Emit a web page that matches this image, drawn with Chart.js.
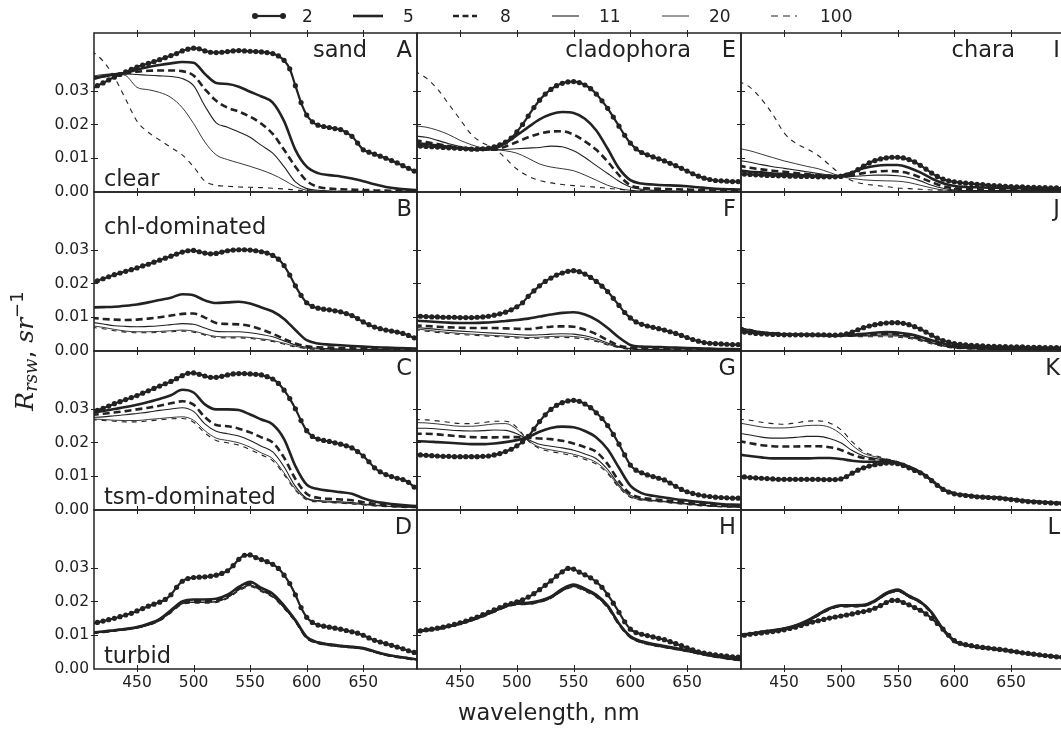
<!DOCTYPE html>
<html>
<head>
<meta charset="utf-8">
<script src="https://cdn.jsdelivr.net/npm/chart.js@4/dist/chart.umd.min.js"></script>
<style>
  html, body { margin: 0; padding: 0; overflow: hidden; background: #fff; }
  body { position: relative; width: 1061px; height: 731px; }
  canvas { position: absolute; }
  #labels { position: absolute; left: 0; top: 0; pointer-events: none; }
</style>
</head>
<body>
<svg id="labels" width="1061" height="731">
  <g stroke="#222" fill="#222">
    <line x1="253" y1="16" x2="285" y2="16" stroke-width="2.2"/>
    <circle cx="255" cy="16" r="3" stroke="none"/>
    <circle cx="283" cy="16" r="3" stroke="none"/>
    <line x1="353" y1="16" x2="383" y2="16" stroke-width="2.6"/>
    <line x1="453" y1="16" x2="477" y2="16" stroke-width="2.6" stroke-dasharray="6 3.5"/>
    <line x1="552" y1="16" x2="579" y2="16" stroke-width="1.1"/>
    <line x1="662" y1="16" x2="689" y2="16" stroke-width="0.9"/>
    <line x1="771" y1="16" x2="797" y2="16" stroke-width="1.1" stroke-dasharray="7 5"/>
  </g>
  <g font-family="DejaVu Sans" font-size="17" fill="#222">
    <text x="302" y="22">2</text>
    <text x="403" y="22">5</text>
    <text x="500" y="22">8</text>
    <text x="599" y="22">11</text>
    <text x="709" y="22">20</text>
    <text x="820" y="22">100</text>
  </g>
  <text x="458" y="720" font-family="DejaVu Sans" font-size="22.5" fill="#222">wavelength, nm</text>
  <text transform="translate(33,351) rotate(-90)" text-anchor="middle" font-size="25" fill="#222" font-family="DejaVu Sans"><tspan font-family="DejaVu Serif" font-style="italic">R</tspan><tspan font-family="DejaVu Serif" font-style="italic" font-size="18" dy="4">rsw</tspan><tspan dy="-4">, </tspan><tspan font-family="DejaVu Serif" font-style="italic">sr</tspan><tspan font-size="18" dy="-10">−1</tspan></text>
</svg>
<script>
// reflectance values in units of 1e-3 sr^-1
const wl = [410,420,430,440,450,460,470,480,490,500,510,520,530,540,550,560,570,580,590,600,610,620,630,640,650,660,670,680,690,700];
const wlFine = [410,415,420,425,430,435,440,445,450,455,460,465,470,475,480,485,490,495,500,505,510,515,520,525,530,535,540,545,550,555,560,565,570,575,580,585,590,595,600,605,610,615,620,625,630,635,640,645,650,655,660,665,670,675,680,685,690,695,700];
const depths = ['2', '5', '8', '11', '20', '100'];

// sand
const A2 = [30.5,31.5,32.3,33.2,34,34.8,35.6,36.3,37,37.6,38.1,38.6,39.2,39.8,40.4,41,41.8,42.3,42.6,42.4,41.8,41.4,41.3,41.4,41.6,41.8,41.9,41.8,41.7,41.6,41.5,41.3,41,40.3,39,36.5,31.5,26.5,22.8,20.8,19.8,19.4,19.1,18.8,18.5,17.6,16.5,14.5,12.5,11.8,11.2,10.6,10,9.3,8.6,7.8,7,6.2,5.6];
const A5 = [33.5,34.2,34.8,35.3,36.2,37,37.6,38.1,38.5,38.3,35,32.3,32,31.2,29.7,28.3,26.5,21,12.5,7.5,5.6,5,4.6,4,3.2,2.3,1.5,1,0.7,0.5];
const A8 = [33.5,34.2,34.8,35.2,35.6,35.9,36,36,35.8,34.5,30.5,27,25,23.8,22.3,20.2,17.2,12.5,7.5,3.3,1.5,1,0.8,0.7,0.6,0.5,0.4,0.3,0.3,0.3];
const A11 = [34,34.5,35,35,34.8,34.6,34.4,34.2,33.6,31.5,25.5,20.5,19.2,17.8,16.2,13.8,11.5,7.5,3,1,0.5,0.3,0.2,0.2,0.1,0.1,0.1,0.1,0.1,0.1];
const A20 = [34.3,34.8,35,34.5,31,30.3,29.5,28,25,20.3,14.8,11,9.6,8.6,7.6,6.5,5.2,3.5,1.6,0.5,0.2,0.1,0.1,0.1,0.1,0.1,0.1,0.1,0.1,0.1];
const A100 = [41.8,38.8,34,27.5,21,17.7,15.4,13.2,11,7.5,3.2,2,1.7,1.5,1.4,1.3,1.1,0.9,0.6,0.3,0.2,0.2,0.2,0.2,0.2,0.2,0.2,0.2,0.2,0.2];

const B2 = [20.2,20.8,21.4,22,22.6,23.1,23.6,24.1,24.6,25.2,25.7,26.3,26.9,27.5,28.1,28.7,29.3,29.7,29.8,29.4,29,28.8,28.9,29.3,29.7,29.9,30,30,29.9,29.7,29.4,29,28.3,27.2,25.3,22.5,19.3,16.5,14.3,13.2,12.7,12.4,12.2,11.9,11.6,11.1,10.5,9.6,8.6,7.8,7.1,6.6,6.2,5.9,5.6,5.2,4.6,3.9,3.5];
const B5 = [12.9,13,13.1,13.4,13.8,14.4,15.1,15.8,16.8,16.5,15,14.2,14.4,14.6,14.1,12.9,11.7,9.5,6.2,3.2,2.2,1.9,1.7,1.5,1.3,1.1,1,0.9,0.8,0.7];
const B8 = [9.8,9.5,9.3,9.2,9.3,9.6,10,10.5,11,11.1,9.9,8.3,8,7.9,7.4,6.4,5.1,3.6,2.2,1.4,1.1,1,0.9,0.8,0.7,0.6,0.5,0.5,0.4,0.4];
const B11 = [8.5,8,7.5,7.3,7.2,7.3,7.5,7.8,8.1,7.9,6.8,5.8,5.7,5.7,5.4,4.9,4.2,3,1.8,1.1,0.8,0.7,0.6,0.5,0.5,0.4,0.4,0.3,0.3,0.3];
const B20 = [7.5,7,6.4,5.9,5.7,5.7,5.8,6,6.2,5.9,5,4.3,4.2,4.2,4,3.6,3.1,2.3,1.4,0.8,0.6,0.5,0.4,0.4,0.3,0.3,0.3,0.2,0.2,0.2];
const B100 = [7,6.6,6,5.6,5.4,5.4,5.5,5.7,5.9,5.6,4.7,4,3.9,3.9,3.7,3.3,2.8,2,1.2,0.7,0.5,0.4,0.4,0.3,0.3,0.3,0.2,0.2,0.2,0.2];

const C2 = [28.8,29.5,30.1,30.8,31.5,32.1,32.7,33.3,33.9,34.6,35.3,36,36.7,37.4,38.1,38.9,39.8,40.5,40.6,40.2,39.7,39.3,39.3,39.6,40,40.3,40.4,40.4,40.3,40.2,40,39.5,38.8,37.5,35.5,33,30,26.5,23.5,21.8,21,20.6,20.3,19.9,19.5,19,18.4,17.3,16,14.3,12.5,11.3,10.5,9.9,9.4,9,8.2,6.8,6];
const C5 = [28.8,29.3,29.9,30.5,31.2,32,32.9,34,35.6,34.8,31.3,29.8,29.8,29.6,28.3,26.8,25.3,21,13,7.5,6.2,5.7,5.3,4.8,3.5,2.5,2,1.6,1.3,1.1];
const C8 = [28.2,28.5,28.9,29.3,29.8,30.3,30.9,31.6,32.2,31.2,27.5,25.2,24.8,24.1,23,21.5,20,15.5,9.2,4.8,3.6,3.3,3.1,2.9,2.3,1.8,1.5,1.3,1.1,1];
const C11 = [27.4,27.6,27.9,28.2,28.6,29,29.5,29.9,30.3,29.2,25.5,23.3,22.6,21.9,20.6,18.9,17.2,12.8,7,3.5,2.8,2.6,2.4,2.2,1.8,1.5,1.2,1,0.9,0.8];
const C20 = [27,26.8,26.6,26.5,26.5,26.8,27.1,27.4,27.6,26.6,23.5,21.3,20.6,19.9,18.6,16.9,15.2,11,6.2,3.3,2.6,2.3,2.1,1.9,1.6,1.3,1.1,0.9,0.8,0.7];
const C100 = [26.8,26.5,26.3,26.1,26.1,26.4,26.7,27,27.1,26,22.8,20.6,19.9,19.2,17.9,16.3,14.6,10.5,5.8,3,2.4,2.2,2,1.8,1.5,1.2,1,0.8,0.7,0.7];

const D2 = [13.4,13.8,14.2,14.6,15,15.5,16,16.5,17.2,17.9,18.6,19.2,19.8,20.6,22,24.2,26,26.8,27.1,27.2,27.3,27.5,27.8,28.3,29.1,30.6,32.5,33.7,33.8,33,32.4,31.8,31,29.8,27.8,25.3,22,18.2,15.3,13.8,13,12.7,12.4,12.1,11.8,11.4,11,10.6,10,9.2,8.5,8,7.5,7,6.5,6,5.4,4.9,4.6];
const D5 = [10.8,11.1,11.5,11.9,12.4,13.4,14.8,17.4,20,20.6,20.6,20.8,22,24.3,25.8,24,22.3,18.8,14.5,9.5,7.9,7.3,6.9,6.6,6.2,5.2,4.3,3.7,3.2,2.7];
const D8 = [10.7,11,11.4,11.8,12.3,13.2,14.6,17.1,19.7,20.2,20.2,20.4,21.6,23.9,25.3,23.6,21.9,18.5,14.3,9.3,7.8,7.2,6.8,6.5,6.1,5.1,4.2,3.6,3.1,2.6];
const D11 = [10.6,10.9,11.3,11.7,12.2,13.1,14.4,16.9,19.4,19.8,19.8,20,21.2,23.5,24.9,23.3,21.6,18.2,14.1,9.2,7.7,7.1,6.7,6.4,6,5,4.1,3.6,3.1,2.6];
const D20 = [10.6,10.9,11.3,11.7,12.2,13,14.3,16.8,19.3,19.7,19.7,19.9,21.1,23.4,24.7,23.1,21.4,18.1,14,9.1,7.6,7,6.6,6.3,5.9,5,4.1,3.5,3,2.6];
const D100 = [10.5,10.8,11.2,11.6,12.1,12.9,14.2,16.6,19.1,19.5,19.5,19.7,20.9,23.1,24.4,22.9,21.2,17.9,13.9,9,7.5,6.9,6.5,6.2,5.8,4.9,4,3.5,3,2.5];

// cladophora
const E2 = [13.8,13.6,13.5,13.4,13.3,13.2,13.1,13,12.9,12.8,12.7,12.7,12.8,13,13.4,14,14.8,16,17.8,20,22.5,25,27.2,29,30.4,31.5,32.2,32.6,32.7,32.4,31.7,30.6,29,27,24.8,22.2,19.5,16.8,14.5,12.8,11.7,11,10.4,9.8,9.2,8.5,7.8,7,6.2,5.4,4.7,4.1,3.7,3.4,3.3,3.2,3.1,3.1,3.1];
const E5 = [14.5,14.2,13.8,13.4,13,12.7,12.6,12.8,14.5,16.8,19.2,21.5,23,23.7,23.4,21.7,18.2,12.8,7,3.5,2.5,2.2,2,1.9,1.7,1.4,1.1,0.9,0.8,0.7];
const E8 = [15.3,14.8,14.2,13.6,13.1,12.7,12.5,12.5,13.5,14.8,16.2,17.3,17.9,18,17,15,12.5,9,5,2,1.2,1,0.9,0.8,0.7,0.6,0.5,0.4,0.4,0.4];
const E11 = [16.6,16.2,15.3,14.3,13.5,13,12.6,12.5,12.6,12.8,13,13.2,13.6,13.4,12.2,10.2,7.8,5.5,3.2,1.5,0.8,0.5,0.4,0.3,0.3,0.2,0.2,0.2,0.1,0.1];
const E20 = [19.6,19.2,18.3,17,15.3,14,13,12.6,12.2,11.5,10,8.3,7.4,6.9,6.3,5,3.5,2,1,0.5,0.3,0.2,0.2,0.1,0.1,0.1,0.1,0.1,0.1,0.1];
const E100 = [35.8,33.8,30.5,26,21.5,17,14.5,13,10,6.8,4.7,3.4,2.7,2.2,1.9,1.7,1.4,1.1,0.8,0.5,0.4,0.3,0.2,0.2,0.2,0.2,0.2,0.2,0.2,0.2];

const F2 = [10.4,10.3,10.2,10.1,10.1,10,10,10,9.9,9.9,9.9,10,10.1,10.3,10.6,11,11.5,12.2,13.1,14.3,16.2,17.8,19.3,20.6,21.6,22.5,23.1,23.6,23.8,23.5,22.8,21.8,20.6,19.2,17.6,15.6,13.5,11.4,9.8,8.6,7.9,7.4,7,6.6,6.2,5.7,5.2,4.6,4,3.4,2.9,2.5,2.3,2.2,2.1,2,1.9,1.9,1.9];
const F5 = [9,8.8,8.6,8.4,8.3,8.3,8.4,8.6,8.9,9.2,9.6,10.2,10.8,11.3,11.5,10.8,9.2,6.8,4,1.8,1.3,1.2,1.1,1,0.9,0.8,0.7,0.6,0.6,0.5];
const F8 = [7.6,7.4,7.2,7,6.9,6.8,6.8,6.8,6.7,6.6,6.5,6.9,7.2,7.3,7.2,6.3,5,3.2,1.6,1,0.8,0.7,0.6,0.5,0.5,0.4,0.4,0.4,0.3,0.3];
const F11 = [7,6.7,6.4,6.1,5.9,5.7,5.5,5.3,5.1,4.9,4.7,4.8,5,5.1,5,4.5,3.6,2.4,1.3,0.7,0.5,0.4,0.4,0.3,0.3,0.3,0.2,0.2,0.2,0.2];
const F20 = [6.6,6.2,5.8,5.5,5.2,5,4.8,4.6,4.4,4.2,4,4.1,4.3,4.4,4.3,3.9,3.1,2,1.1,0.6,0.4,0.3,0.3,0.3,0.2,0.2,0.2,0.2,0.2,0.2];
const F100 = [6.3,5.9,5.5,5.2,4.9,4.7,4.5,4.3,4.1,3.9,3.7,3.8,3.9,4,3.9,3.5,2.8,1.8,1,0.5,0.4,0.3,0.2,0.2,0.2,0.2,0.2,0.2,0.2,0.2];

const G2 = [16.4,16.3,16.2,16.1,16,15.9,15.9,15.8,15.8,15.8,15.8,15.8,15.9,16,16.3,16.7,17.3,18,19,20.2,21.8,24,26.2,28.2,29.8,31,31.8,32.3,32.5,32.2,31.4,30.3,28.8,27.1,25,22.4,19.5,16.3,13.3,11.8,11,10.4,9.9,9.4,8.9,8,7,6.1,5.4,4.9,4.5,4.2,4,3.8,3.7,3.6,3.5,3.5,3.5];
const G5 = [20.4,20.3,20.1,19.9,19.7,19.5,19.5,19.7,20.1,20.7,21.6,23.2,24.3,24.7,24.5,23.4,21.5,18,12.5,7.2,5,4.2,3.7,3.2,2.8,2.4,2.1,1.8,1.6,1.5];
const G8 = [22.6,22.6,22.4,22.1,21.8,21.6,21.5,21.5,21.6,21.6,21.4,21.2,21,20.5,19.7,18.6,17.2,13.6,8.5,4.8,3.6,3.2,2.9,2.5,2.1,1.8,1.5,1.3,1.2,1.1];
const G11 = [24.2,24.2,24,23.7,23.5,23.4,23.5,23.7,23.6,22.6,20.9,19.5,18.9,18.4,17.7,16.6,15.2,12,7.4,4.4,3.3,2.9,2.6,2.2,1.9,1.6,1.3,1.1,1,0.9];
const G20 = [25.9,25.8,25.5,25.1,24.8,24.8,25.1,25.5,25.6,23.9,20.6,18.6,17.8,17.2,16.5,15.5,14.1,11.2,6.9,4,3,2.7,2.4,2,1.7,1.4,1.2,1,0.9,0.8];
const G100 = [26.8,26.7,26.4,26,25.6,25.6,25.9,26.3,26.3,24.5,20.5,18.2,17.3,16.7,16,15,13.6,10.8,6.6,3.8,2.9,2.6,2.3,1.9,1.6,1.3,1.1,0.9,0.8,0.8];

const H2 = [11.1,11.3,11.6,11.8,12.1,12.4,12.8,13.2,13.7,14.2,14.8,15.4,16.1,16.8,17.5,18.2,18.9,19.4,19.9,20.5,21.3,22.3,23.5,24.8,26.1,27.5,28.8,29.8,29.6,28.7,27.9,27,25.8,24.2,22,19.5,16.8,14,11.8,10.8,10.3,9.9,9.5,9.1,8.7,8.1,7.5,6.9,6.3,5.7,5.1,4.7,4.4,4.2,4,3.8,3.6,3.5,3.4];
const H5 = [11,11.5,12,12.7,13.5,14.6,15.9,17.3,18.7,19.5,19.6,20.2,21.4,23.7,25,23.8,22,18.8,13.5,9.7,8.2,7.4,6.8,6.2,5.5,4.8,4.1,3.5,3,2.7];
const H8 = [10.9,11.4,11.9,12.6,13.4,14.5,15.7,17.1,18.5,19.3,19.4,20,21.2,23.4,24.7,23.5,21.7,18.5,13.3,9.5,8,7.2,6.6,6,5.4,4.7,4,3.4,2.9,2.6];
const H11 = [10.9,11.4,11.9,12.6,13.4,14.4,15.6,17,18.4,19.2,19.3,19.9,21.1,23.3,24.6,23.4,21.6,18.4,13.2,9.4,7.9,7.1,6.5,5.9,5.3,4.6,4,3.4,2.9,2.6];
const H20 = [10.8,11.3,11.8,12.5,13.3,14.3,15.5,16.9,18.3,19.1,19.2,19.8,21,23.2,24.4,23.2,21.4,18.2,13.1,9.3,7.8,7,6.4,5.8,5.2,4.5,3.9,3.3,2.8,2.5];
const H100 = [10.8,11.3,11.8,12.4,13.2,14.2,15.4,16.8,18.2,19,19.1,19.7,20.9,23,24.2,23,21.2,18,13,9.2,7.7,6.9,6.3,5.7,5.1,4.4,3.8,3.3,2.8,2.5];

// chara
const I2 = [5.4,5.3,5.2,5.1,5,4.9,4.9,4.8,4.8,4.7,4.7,4.6,4.6,4.6,4.5,4.5,4.5,4.5,4.6,5,5.6,6.6,7.7,8.6,9.3,9.8,10.1,10.3,10.3,10.1,9.6,8.9,7.9,6.8,5.6,4.6,3.8,3.3,3,2.8,2.6,2.5,2.3,2.2,2,1.9,1.8,1.7,1.6,1.5,1.5,1.4,1.4,1.3,1.3,1.2,1.2,1.1,1.1];
const I5 = [6.4,6,5.8,5.5,5.3,5.1,4.9,4.7,4.6,4.8,5.8,7,7.7,8,8,7.2,5.8,4,2.6,1.8,1.5,1.4,1.3,1.2,1.1,1.1,1,1,1,1];
const I8 = [7.8,7.2,6.7,6.3,6,5.6,5.3,5,4.8,4.7,5,5.6,6,6.2,6.1,5.5,4.3,2.9,1.7,1.1,0.9,0.8,0.7,0.7,0.7,0.7,0.7,0.7,0.7,0.7];
const I11 = [9.4,8.8,8.1,7.5,7,6.5,6,5.5,5,4.6,4.6,4.8,5,5,4.8,4.3,3.3,2,1.1,0.6,0.4,0.4,0.4,0.4,0.4,0.4,0.4,0.4,0.4,0.4];
const I20 = [12.9,12.2,11.2,10.2,9.2,8.4,7.6,6.9,5.8,4.6,4,3.6,3.4,3.3,3.2,2.8,2,1.2,0.6,0.4,0.3,0.3,0.3,0.3,0.3,0.3,0.3,0.3,0.3,0.3];
const I100 = [32.8,31,27.5,23,17.5,14.5,12.8,10.8,8,5.2,3.3,2.4,2,1.6,1.2,1,0.8,0.6,0.5,0.4,0.3,0.3,0.3,0.3,0.3,0.3,0.3,0.3,0.3,0.3];

const J2 = [5.8,5.6,5.4,5.2,5.1,5,4.9,4.9,4.8,4.8,4.8,4.8,4.8,4.8,4.8,4.8,4.7,4.7,4.8,5.1,5.6,6.3,6.9,7.4,7.8,8.1,8.3,8.4,8.4,8.2,7.8,7.2,6.5,5.6,4.7,3.8,3.1,2.6,2.2,2,1.8,1.7,1.6,1.5,1.4,1.4,1.3,1.3,1.2,1.2,1.2,1.1,1.1,1.1,1,1,1,1,1];
const J5 = [6.3,5.7,5.3,5.1,4.9,4.8,4.8,4.7,4.6,4.6,4.8,5.1,5.4,5.6,5.5,5,4.2,3.2,2.2,1.5,1.2,1.1,1,0.9,0.9,0.8,0.8,0.7,0.7,0.7];
const J8 = [6.7,6,5.5,5.2,5,4.9,4.8,4.7,4.6,4.5,4.6,4.8,5,5.1,5,4.5,3.7,2.7,1.8,1.2,0.9,0.8,0.7,0.7,0.6,0.6,0.5,0.5,0.5,0.5];
const J11 = [6.9,6.2,5.6,5.3,5.1,4.9,4.8,4.7,4.6,4.5,4.5,4.6,4.7,4.8,4.7,4.2,3.5,2.5,1.6,1,0.8,0.7,0.6,0.6,0.5,0.5,0.5,0.5,0.5,0.5];
const J20 = [7,6.3,5.7,5.4,5.1,4.9,4.8,4.7,4.6,4.5,4.4,4.4,4.5,4.5,4.4,4,3.3,2.3,1.5,0.9,0.7,0.6,0.5,0.5,0.5,0.5,0.5,0.5,0.5,0.5];
const J100 = [7.2,6.4,5.8,5.4,5.1,4.9,4.8,4.7,4.6,4.5,4.3,4.2,4.2,4.2,4.1,3.7,3,2.1,1.3,0.8,0.6,0.5,0.5,0.4,0.4,0.4,0.4,0.4,0.4,0.4];

const K2 = [9.9,9.8,9.6,9.5,9.4,9.3,9.2,9.1,9.1,9.1,9.1,9.1,9.1,9.1,9.1,9,9,9,9.2,9.9,10.9,11.8,12.5,13,13.4,13.7,13.9,13.9,13.7,13.2,12.5,11.7,11,10,8.7,7.3,6.1,5.3,4.8,4.5,4.3,4.1,3.9,3.8,3.7,3.6,3.5,3.3,3.1,2.9,2.7,2.5,2.4,2.3,2.2,2.1,2,1.9,1.9];
const K5 = [16.4,16,15.6,15.3,15.3,15.3,15.3,15.4,15.4,15.1,14.6,14.3,14.3,14.4,14,12.8,11.2,8.8,6.2,4.9,4.4,4,3.8,3.6,3.2,2.8,2.5,2.3,2.1,2];
const K8 = [20.4,19.8,19.2,18.9,18.8,18.8,18.9,18.9,18.6,17.8,16.4,15.4,15,14.7,14.1,12.8,11.2,8.8,6.2,4.9,4.4,4,3.8,3.6,3.2,2.8,2.5,2.3,2.1,2];
const K11 = [22.8,22.2,21.6,21.3,21.3,21.5,21.8,21.8,21.2,19.9,17.6,16,15.3,14.8,14.1,12.7,11.1,8.7,6.1,4.8,4.3,3.9,3.7,3.5,3.1,2.7,2.4,2.2,2,1.9];
const K20 = [25.8,25.2,24.6,24.3,24.3,24.6,25,25.1,24.5,22.5,19.2,16.8,15.8,15,14.2,12.7,11.1,8.7,6.1,4.8,4.3,3.9,3.7,3.5,3.1,2.7,2.4,2.2,2,1.9];
const K100 = [26.9,26.6,26,25.6,25.4,25.8,26.3,26.4,25.8,23.8,20.2,17.3,16.1,15.2,14.3,12.7,11.1,8.7,6.1,4.8,4.3,3.9,3.7,3.5,3.1,2.7,2.4,2.2,2,1.9];

const L2 = [9.8,10,10.3,10.5,10.7,10.9,11.1,11.3,11.6,12,12.4,12.9,13.4,13.9,14.3,14.7,15.1,15.4,15.7,16,16.3,16.7,17,17.4,18,18.8,19.7,20.3,20.3,19.7,19,18.2,17.4,16.3,15,13.5,11.8,10,8.4,7.6,7.2,6.9,6.6,6.4,6.2,6,5.8,5.6,5.3,5.1,4.8,4.6,4.4,4.2,4,3.8,3.6,3.5,3.4];
const L5 = [10.1,10.5,11,11.5,12,12.9,14.3,16.2,18,18.9,18.9,19,20.3,22.5,23.5,21.7,20,16.8,11.8,8.3,7.2,6.6,6.2,5.8,5.3,4.8,4.4,4,3.6,3.4];
const L8 = [10,10.4,10.9,11.4,11.9,12.8,14.1,16,17.8,18.7,18.7,18.8,20.1,22.3,23.3,21.5,19.8,16.6,11.7,8.2,7.1,6.5,6.1,5.7,5.2,4.7,4.3,3.9,3.6,3.4];
const L11 = [10,10.3,10.8,11.3,11.8,12.7,14,15.9,17.7,18.6,18.6,18.7,20,22.1,23.1,21.4,19.7,16.5,11.6,8.2,7.1,6.5,6.1,5.7,5.2,4.7,4.3,3.9,3.6,3.4];
const L20 = [9.9,10.3,10.8,11.2,11.7,12.6,13.9,15.8,17.6,18.5,18.5,18.6,19.9,22,23,21.3,19.6,16.4,11.5,8.1,7,6.4,6,5.6,5.2,4.7,4.3,3.9,3.6,3.4];
const L100 = [9.9,10.2,10.7,11.2,11.6,12.5,13.8,15.7,17.5,18.4,18.4,18.5,19.8,21.9,22.9,21.2,19.5,16.3,11.5,8.1,7,6.4,6,5.6,5.1,4.7,4.3,3.9,3.6,3.4];

const xTicks = [450, 500, 550, 600, 650];
const yTicks = [0, 0.01, 0.02, 0.03];

const panels = [
  { letter: 'A', col: 0, row: 0, word: 'sand', side: 'clear', series: [A2, A5, A8, A11, A20, A100] },
  { letter: 'B', col: 0, row: 1, side: 'chl-dominated', series: [B2, B5, B8, B11, B20, B100] },
  { letter: 'C', col: 0, row: 2, side: 'tsm-dominated', series: [C2, C5, C8, C11, C20, C100] },
  { letter: 'D', col: 0, row: 3, side: 'turbid', series: [D2, D5, D8, D11, D20, D100] },
  { letter: 'E', col: 1, row: 0, word: 'cladophora', series: [E2, E5, E8, E11, E20, E100] },
  { letter: 'F', col: 1, row: 1, series: [F2, F5, F8, F11, F20, F100] },
  { letter: 'G', col: 1, row: 2, series: [G2, G5, G8, G11, G20, G100] },
  { letter: 'H', col: 1, row: 3, series: [H2, H5, H8, H11, H20, H100] },
  { letter: 'I', col: 2, row: 0, word: 'chara', series: [I2, I5, I8, I11, I20, I100] },
  { letter: 'J', col: 2, row: 1, series: [J2, J5, J8, J11, J20, J100] },
  { letter: 'K', col: 2, row: 2, series: [K2, K5, K8, K11, K20, K100] },
  { letter: 'L', col: 2, row: 3, series: [L2, L5, L8, L11, L20, L100] },
];

const ink = '#222';
const colLeft = [94, 417, 741];
const colWidth = [323, 324, 324];
const rowTop = [33, 192, 351, 510];
const rowHeight = 159;

const lineStyle = [
  { width: 2.2, dash: [] },
  { width: 2.6, dash: [] },
  { width: 2.6, dash: [7, 4] },
  { width: 1.1, dash: [] },
  { width: 0.9, dash: [] },
  { width: 1.1, dash: [5, 5] },
];

// keep the plot area fixed: no extra room for tick label overhang
function noPadding(s) {
  s.paddingTop = 0;
  s.paddingBottom = 0;
  s.paddingLeft = 0;
  s.paddingRight = 0;
}

const frame = {
  id: 'frame',
  afterDatasetsDraw(chart, args, opts) {
    const { ctx, chartArea: a, scales: { x, y } } = chart;
    ctx.save();
    ctx.strokeStyle = ink;
    ctx.lineWidth = 1.5;
    ctx.strokeRect(a.left, a.top, a.right - a.left, a.bottom - a.top);
    ctx.lineWidth = 1;
    ctx.beginPath();
    x.ticks.forEach(t => {
      const px = Math.round(x.getPixelForValue(t.value)) + 0.5;
      ctx.moveTo(px, a.top - 3); ctx.lineTo(px, a.top + 4);
      ctx.moveTo(px, a.bottom - 4); ctx.lineTo(px, a.bottom + 3);
    });
    y.ticks.filter(t => t.value > 0).forEach(t => {
      const py = Math.round(y.getPixelForValue(t.value)) + 0.5;
      ctx.moveTo(a.left - 3, py); ctx.lineTo(a.left + 4, py);
      ctx.moveTo(a.right - 4, py); ctx.lineTo(a.right + 3, py);
    });
    ctx.stroke();

    ctx.fillStyle = ink;
    ctx.font = '22.5px "DejaVu Sans"';
    ctx.textBaseline = 'alphabetic';
    ctx.textAlign = 'right';
    ctx.fillText(opts.letter, a.right - 5, a.top + 23.5);
    if (opts.word) ctx.fillText(opts.word, a.right - 50, a.top + 23.5);
    if (opts.side) {
      ctx.textAlign = 'left';
      const by = opts.row === 1 ? a.top + 41.5 : a.bottom - 6;
      ctx.fillText(opts.side, a.left + 10, by);
    }
    ctx.restore();
  }
};

panels.forEach(p => {
  const mL = p.col === 0 ? 94 : 10, mR = 10, mT = 10, mB = p.row === 3 ? 44 : 14;
  const w = colWidth[p.col], h = rowHeight;
  const cv = document.createElement('canvas');
  cv.width = w + mL + mR;
  cv.height = h + mT + mB;
  cv.style.left = (colLeft[p.col] - mL) + 'px';
  cv.style.top = (rowTop[p.row] - mT) + 'px';
  document.body.insertBefore(cv, document.getElementById('labels'));

  new Chart(cv, {
    type: 'line',
    data: {
      datasets: p.series.map((s, i) => ({
        label: depths[i],
        data: (i === 0 ? wlFine : wl).map((x, k) => ({ x: x, y: s[k] / 1000 })),
        borderColor: ink,
        backgroundColor: ink,
        borderWidth: lineStyle[i].width,
        borderDash: lineStyle[i].dash,
        pointRadius: i === 0 ? 2.6 : 0,
        pointBorderWidth: 0,
        pointBackgroundColor: ink,
        cubicInterpolationMode: 'monotone',
        clip: 0,
      }))
    },
    options: {
      responsive: false,
      animation: false,
      events: [],
      layout: { padding: { top: mT, right: mR, left: 0, bottom: 0 } },
      plugins: {
        legend: { display: false },
        tooltip: { enabled: false },
        frame: { letter: p.letter, word: p.word, side: p.side, row: p.row }
      },
      scales: {
        x: {
          type: 'linear', min: 412, max: 697.5,
          afterBuildTicks: s => { s.ticks = xTicks.map(value => ({ value })); },
          afterFit: s => { s.height = mB; noPadding(s); },
          grid: { display: false, drawTicks: false },
          border: { display: false },
          ticks: {
            display: p.row === 3, padding: 5, autoSkip: false, maxRotation: 0,
            color: ink, font: { family: 'DejaVu Sans', size: 15.5 }
          }
        },
        y: {
          type: 'linear', min: 0, max: 0.0471,
          afterBuildTicks: s => { s.ticks = yTicks.map(value => ({ value })); },
          afterFit: s => { s.width = mL; noPadding(s); },
          grid: { display: false, drawTicks: false },
          border: { display: false },
          ticks: {
            display: p.col === 0, padding: 5,
            color: ink, font: { family: 'DejaVu Sans', size: 15.5 },
            callback: v => v.toFixed(2)
          }
        }
      }
    },
    plugins: [frame]
  });
});
</script>
</body>
</html>
